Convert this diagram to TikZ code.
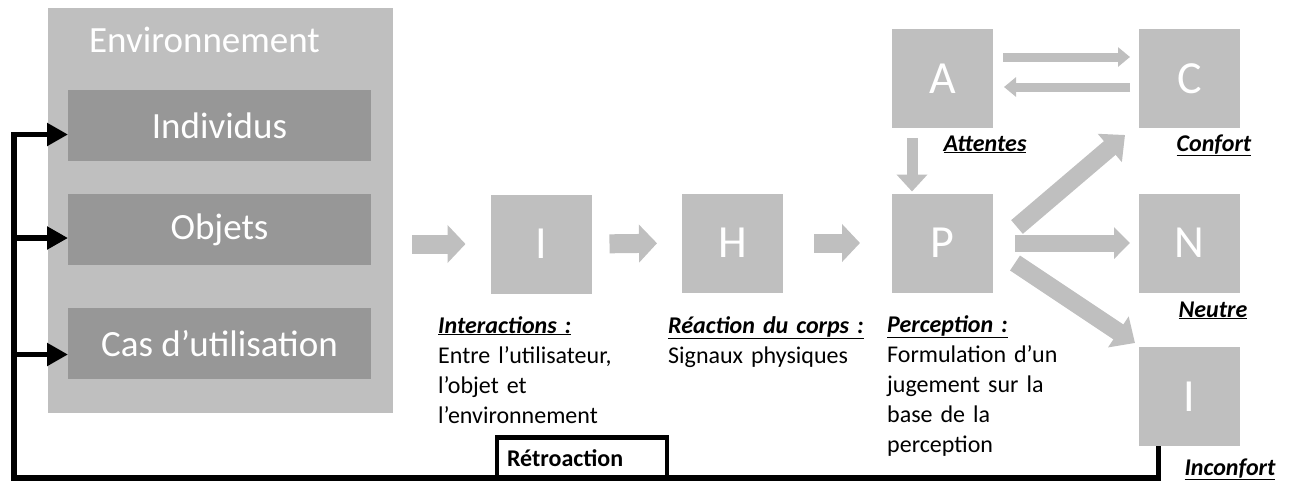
\documentclass[tikz,border=0pt]{standalone}
\usepackage{fontspec}
\setmainfont{Carlito}
\usetikzlibrary{arrows.meta}
\definecolor{envgray}{HTML}{BFBFBF}
\definecolor{innergray}{HTML}{979797}
\definecolor{boxgray}{HTML}{BFBFBF}
\definecolor{arrgray}{HTML}{BFBFBF}
\begin{document}
\begin{tikzpicture}[x=1pt,y=-1pt,
  envbox/.style={fill=envgray, minimum width=345pt, minimum height=405pt, inner sep=0pt, outer sep=0pt},
  innerbox/.style={fill=innergray, minimum width=303pt, minimum height=71pt, inner sep=0pt, outer sep=0pt, text=white, font=\fontsize{37}{44}\selectfont},
  flowbox/.style={fill=boxgray, minimum width=101pt, minimum height=99pt, inner sep=0pt, outer sep=0pt, text=white, font=\fontsize{46}{50}\selectfont},
  bigarrow/.style={draw=arrgray, line width=19pt, -{Triangle[length=18pt,width=37pt]}},
  thinarrow/.style={draw=arrgray, line width=9pt, -{Triangle[length=12pt,width=19pt]}},
  downarrow/.style={draw=arrgray, line width=11pt, -{Triangle[length=17pt,width=30pt]}},
  outarrow/.style={draw=arrgray, line width=17pt, -{Triangle[length=16pt,width=31pt]}},
  diagarrow/.style={draw=arrgray, line width=18pt, -{Triangle[length=20pt,width=36pt]}},
  fb/.style={draw=black, line width=5.5pt},
  fbarrow/.style={fb, -{Triangle[length=21pt,width=22pt]}},
  lbl/.style={font=\fontsize{24}{30}\selectfont, inner sep=0pt, align=left, anchor=base west, text width=215pt},
  tag/.style={font=\fontsize{24}{30}\selectfont\bfseries\itshape, inner sep=0pt, anchor=base},
  retrobox/.style={draw=black, line width=4.5pt, minimum width=170pt, minimum height=40.5pt, text width=150pt, inner xsep=10pt, inner ysep=0pt, align=left, font=\fontsize{24}{30}\selectfont\bfseries}
]
\useasboundingbox (0,0) rectangle (1293,483);

% Environment
\node[envbox] (env) at (220.5,210.5) {};
\node[font=\fontsize{37}{44}\selectfont, text=white, inner sep=0pt, anchor=base] (envlabel) at (204.5,52) {Environnement};
\node[innerbox] (ind) at (219.5,125.5) {Individus};
\node[innerbox] (obj) at (219.5,229.5) {Objets};
\node[innerbox] (cas) at (219.5,343.5) {Cas d’utilisation};

% Flow boxes
\node[flowbox] (I) at (541,244) {I};
\node[flowbox] (H) at (732.5,243) {H};
\node[flowbox] (P) at (942.5,243) {P};
\node[flowbox] (A) at (942.5,78.5) {A};
\node[flowbox] (C) at (1189.5,78.5) {C};
\node[flowbox] (N) at (1189.5,243) {N};
\node[flowbox] (I2) at (1189.5,396.5) {I};

% Gray arrows
\draw[bigarrow, shorten <=19pt, shorten >=25pt] (env.east |- I.west) -- (I.west);
\draw[bigarrow, shorten <=18pt, shorten >=25pt] (I.east) -- (H.west);
\draw[bigarrow, shorten <=31pt, shorten >=32pt] (H.east) -- (P.west);
\draw[thinarrow, shorten <=10pt, shorten >=9pt] ([yshift=21.5pt]A.east) -- ([yshift=21.5pt]C.west);
\draw[thinarrow, shorten <=9pt, shorten >=11pt] ([yshift=-8.5pt]C.west) -- ([yshift=-8.5pt]A.east);
\draw[downarrow, shorten <=10pt, shorten >=2pt] ([xshift=-30.5pt]A.south) -- ([xshift=-30.5pt]P.north);
\draw[outarrow, shorten <=22pt, shorten >=9pt] (P.east) -- (N.west);
\draw[diagarrow] ([shift={(24pt,16pt)}]P.east) -- ([shift={(-14pt,-7pt)}]C.south west);
\draw[diagarrow] ([shift={(22pt,-20pt)}]P.east) -- ([shift={(-4pt,4pt)}]I2.north west);

% Labels
\node[lbl] (lint) at (438,333) {\underline{\textbf{\textit{Interactions :}}}\\Entre l’utilisateur,\\l’objet et\\l’environnement};
\node[lbl] (lreac) at (668,333) {\underline{\textbf{\textit{Réaction du corps :}}}\\Signaux physiques};
\node[lbl] (lperc) at (887,332) {\underline{\textbf{\textit{Perception :}}}\\Formulation d’un\\jugement sur la\\base de la\\perception};
\node[tag] (latt) at (985,151) {\underline{Attentes}};
\node[tag] (lconf) at (1214,151) {\underline{Confort}};
\node[tag] (lneut) at (1213,317) {\underline{Neutre}};
\node[tag] (linc) at (1230,475) {\underline{Inconfort}};

% Feedback loop
\coordinate (fbL) at (14,478);
\coordinate (indin) at ([yshift=-9pt]ind.west);
\coordinate (objin) at ([yshift=-8.5pt]obj.west);
\coordinate (casin) at ([yshift=-11pt]cas.west);
\draw[fbarrow] ([xshift=-31pt]I2.south) |- (fbL) |- (indin);
\draw[fbarrow] (fbL |- objin) -- (objin);
\draw[fbarrow] (fbL |- casin) -- (casin);
\node[retrobox] (retro) at (582,457.75) {Rétroaction};
\end{tikzpicture}
\end{document}
